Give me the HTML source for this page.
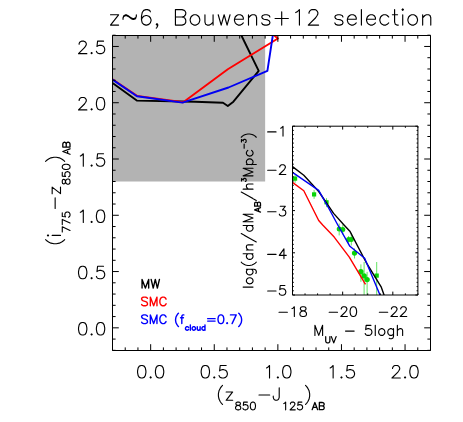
<!DOCTYPE html><html><head><meta charset="utf-8"><style>html,body{margin:0;padding:0;background:#fff}svg{display:block}</style></head><body><svg width="463" height="422" viewBox="0 0 463 422"><rect width="463" height="422" fill="#fff"/><rect x="112.5" y="35.5" width="152.64" height="146.01" fill="#b3b3b3"/><clipPath id="c1"><rect x="112.5" y="35.5" width="318" height="315"/></clipPath><g clip-path="url(#c1)"><polyline points="112.5,83 136.8,100.6 195,101.8 223,102.8 227.8,106 233.4,101.7 258.7,70.8 241.4,35.5" fill="none" stroke="#000" stroke-width="1.9" stroke-linejoin="round" /><polyline points="112.5,79.2 137,95.9 183.2,102.2 227.8,69.2 277.9,38.5 274.3,35.5" fill="none" stroke="#f00" stroke-width="1.9" stroke-linejoin="round" /><polyline points="112.5,79.6 137,96.3 182.5,102.6 228.5,87.5 267.4,70.8 272.8,35.5" fill="none" stroke="#0000f2" stroke-width="1.9" stroke-linejoin="round" /></g><path d="M112.5 35.5H430.5V350.5H112.5ZM112.5 350.5v-3.1M112.5 35.5v3.1M125.22 350.5v-3.1M125.22 35.5v3.1M137.94 350.5v-3.1M137.94 35.5v3.1M150.66 350.5v-6.3M150.66 35.5v6.3M163.38 350.5v-3.1M163.38 35.5v3.1M176.1 350.5v-3.1M176.1 35.5v3.1M188.82 350.5v-3.1M188.82 35.5v3.1M201.54 350.5v-3.1M201.54 35.5v3.1M214.26 350.5v-6.3M214.26 35.5v6.3M226.98 350.5v-3.1M226.98 35.5v3.1M239.7 350.5v-3.1M239.7 35.5v3.1M252.42 350.5v-3.1M252.42 35.5v3.1M265.14 350.5v-3.1M265.14 35.5v3.1M277.86 350.5v-6.3M277.86 35.5v6.3M290.58 350.5v-3.1M290.58 35.5v3.1M303.3 350.5v-3.1M303.3 35.5v3.1M316.02 350.5v-3.1M316.02 35.5v3.1M328.74 350.5v-3.1M328.74 35.5v3.1M341.46 350.5v-6.3M341.46 35.5v6.3M354.18 350.5v-3.1M354.18 35.5v3.1M366.9 350.5v-3.1M366.9 35.5v3.1M379.62 350.5v-3.1M379.62 35.5v3.1M392.34 350.5v-3.1M392.34 35.5v3.1M405.06 350.5v-6.3M405.06 35.5v6.3M417.78 350.5v-3.1M417.78 35.5v3.1M430.5 350.5v-3.1M430.5 35.5v3.1M112.5 350.34h3.1M430.5 350.34h-3.1M112.5 339.08h3.1M430.5 339.08h-3.1M112.5 327.83h6.3M430.5 327.83h-6.3M112.5 316.57h3.1M430.5 316.57h-3.1M112.5 305.32h3.1M430.5 305.32h-3.1M112.5 294.06h3.1M430.5 294.06h-3.1M112.5 282.81h3.1M430.5 282.81h-3.1M112.5 271.56h6.3M430.5 271.56h-6.3M112.5 260.3h3.1M430.5 260.3h-3.1M112.5 249.05h3.1M430.5 249.05h-3.1M112.5 237.79h3.1M430.5 237.79h-3.1M112.5 226.54h3.1M430.5 226.54h-3.1M112.5 215.28h6.3M430.5 215.28h-6.3M112.5 204.02h3.1M430.5 204.02h-3.1M112.5 192.77h3.1M430.5 192.77h-3.1M112.5 181.51h3.1M430.5 181.51h-3.1M112.5 170.26h3.1M430.5 170.26h-3.1M112.5 159h6.3M430.5 159h-6.3M112.5 147.75h3.1M430.5 147.75h-3.1M112.5 136.5h3.1M430.5 136.5h-3.1M112.5 125.24h3.1M430.5 125.24h-3.1M112.5 113.99h3.1M430.5 113.99h-3.1M112.5 102.73h6.3M430.5 102.73h-6.3M112.5 91.47h3.1M430.5 91.47h-3.1M112.5 80.22h3.1M430.5 80.22h-3.1M112.5 68.97h3.1M430.5 68.97h-3.1M112.5 57.71h3.1M430.5 57.71h-3.1M112.5 46.46h6.3M430.5 46.46h-6.3M112.5 35.2h3.1M430.5 35.2h-3.1" fill="none" stroke="#000" stroke-width="1"/><clipPath id="c2"><rect x="292.5" y="126.2" width="125.4" height="168.8"/></clipPath><g clip-path="url(#c2)"><path d="M295.1 175.1V182.8M314.1 189.9V198.8M326.5 198.2V207.1M339.2 223.5V235.4M342.8 224.5V234.5M348.6 236V243M351.3 233V245.5M354.5 248.4V258.5M360.9 264.4V281.8M364.1 262V300M367.1 271.9V300M376.7 262V300" stroke="#08d408" stroke-width="0.85" stroke-opacity="0.75" fill="none"/><rect x="293" y="176.5" width="4.2" height="4.2" fill="#08d408"/><rect x="312" y="192.3" width="4.2" height="4.2" fill="#08d408"/><rect x="324.4" y="200.2" width="4.2" height="4.2" fill="#08d408"/><circle cx="339.2" cy="229" r="2.5" fill="#08d408"/><circle cx="342.8" cy="229.6" r="2.5" fill="#08d408"/><circle cx="348.6" cy="239.6" r="2.5" fill="#08d408"/><circle cx="351.3" cy="239.4" r="2.5" fill="#08d408"/><circle cx="354.5" cy="253.1" r="2.6" fill="#08d408"/><circle cx="360.9" cy="271.7" r="2.7" fill="#08d408"/><circle cx="364.1" cy="275.9" r="2.7" fill="#08d408"/><circle cx="367.1" cy="279.6" r="2.7" fill="#08d408"/><rect x="374.6" y="273.5" width="4.2" height="4.2" fill="#08d408"/><polyline points="292.5,166.6 303.8,175.3 318.7,191.5 333.6,213.4 344,225 350.1,231.6 366.6,263.2 381.3,287.2 384.4,296" fill="none" stroke="#000" stroke-width="1.4" stroke-linejoin="round" /><polyline points="292.5,182.4 303.8,190.7 318.7,220.5 322.7,225 334.2,237.1 349.3,257.2 365.5,284.4" fill="none" stroke="#f00" stroke-width="1.4" stroke-linejoin="round" /><polyline points="292.5,172.4 318.7,190.3 328.6,208 337.8,225 349.9,246.3 364.7,258.3 376,285.4 380.4,296" fill="none" stroke="#0000f2" stroke-width="1.4" stroke-linejoin="round" /></g><path d="M292.5 126.2H417.9V295H292.5ZM292.5 295v-3.4M292.5 126.2v3.4M305.04 295v-1.6M305.04 126.2v1.6M317.58 295v-1.6M317.58 126.2v1.6M330.12 295v-1.6M330.12 126.2v1.6M342.66 295v-3.4M342.66 126.2v3.4M355.2 295v-1.6M355.2 126.2v1.6M367.74 295v-1.6M367.74 126.2v1.6M380.28 295v-1.6M380.28 126.2v1.6M392.82 295v-3.4M392.82 126.2v3.4M405.36 295v-1.6M405.36 126.2v1.6M417.9 295v-1.6M417.9 126.2v1.6M292.5 126.2h2.5M417.9 126.2h-2.5M292.5 130.42h1.3M417.9 130.42h-1.3M292.5 134.64h1.3M417.9 134.64h-1.3M292.5 138.86h1.3M417.9 138.86h-1.3M292.5 143.08h1.3M417.9 143.08h-1.3M292.5 147.3h1.3M417.9 147.3h-1.3M292.5 151.52h1.3M417.9 151.52h-1.3M292.5 155.74h1.3M417.9 155.74h-1.3M292.5 159.96h1.3M417.9 159.96h-1.3M292.5 164.18h1.3M417.9 164.18h-1.3M292.5 168.4h2.5M417.9 168.4h-2.5M292.5 172.62h1.3M417.9 172.62h-1.3M292.5 176.84h1.3M417.9 176.84h-1.3M292.5 181.06h1.3M417.9 181.06h-1.3M292.5 185.28h1.3M417.9 185.28h-1.3M292.5 189.5h1.3M417.9 189.5h-1.3M292.5 193.72h1.3M417.9 193.72h-1.3M292.5 197.94h1.3M417.9 197.94h-1.3M292.5 202.16h1.3M417.9 202.16h-1.3M292.5 206.38h1.3M417.9 206.38h-1.3M292.5 210.6h2.5M417.9 210.6h-2.5M292.5 214.82h1.3M417.9 214.82h-1.3M292.5 219.04h1.3M417.9 219.04h-1.3M292.5 223.26h1.3M417.9 223.26h-1.3M292.5 227.48h1.3M417.9 227.48h-1.3M292.5 231.7h1.3M417.9 231.7h-1.3M292.5 235.92h1.3M417.9 235.92h-1.3M292.5 240.14h1.3M417.9 240.14h-1.3M292.5 244.36h1.3M417.9 244.36h-1.3M292.5 248.58h1.3M417.9 248.58h-1.3M292.5 252.8h2.5M417.9 252.8h-2.5M292.5 257.02h1.3M417.9 257.02h-1.3M292.5 261.24h1.3M417.9 261.24h-1.3M292.5 265.46h1.3M417.9 265.46h-1.3M292.5 269.68h1.3M417.9 269.68h-1.3M292.5 273.9h1.3M417.9 273.9h-1.3M292.5 278.12h1.3M417.9 278.12h-1.3M292.5 282.34h1.3M417.9 282.34h-1.3M292.5 286.56h1.3M417.9 286.56h-1.3M292.5 290.78h1.3M417.9 290.78h-1.3M292.5 295h2.5M417.9 295h-2.5" fill="none" stroke="#000" stroke-width="1"/><path d="M110.49 14.77 L118.6 14.77 L110.49 25.1 L118.6 25.1M123.03 17.87 L123.77 15.65 L125.25 14.92 L126.72 14.92 L128.2 15.65 L131.15 17.87 L132.63 18.61 L134.1 18.61 L135.58 17.87 L136.32 16.39 L135.58 18.61 L134.1 19.34 L132.63 19.34 L131.15 18.61 L128.2 16.39 L126.72 15.65 L125.25 15.65 L123.77 16.39 L123.03 17.87 L123.03 19.34M136.32 16.39 L136.32 14.92M141.48 19.93 L141.48 16.24 L142.22 12.55 L143.7 10.34 L145.91 9.6 L147.39 9.6 L149.6 10.34 L150.34 11.82M141.48 19.93 L142.22 22.89 L143.7 24.36 L145.91 25.1 L146.65 25.1 L148.86 24.36 L150.34 22.89 L151.08 20.67 L151.08 19.93 L150.34 17.72 L148.86 16.24 L146.65 15.51 L145.91 15.51 L143.7 16.24 L142.22 17.72 L141.48 19.93M157.72 24.36 L157.72 25.84 L156.98 27.31 L156.24 28.05M157.72 24.36 L156.98 23.62 L156.24 24.36 L156.98 25.1 L157.72 24.36M175.43 16.98 L182.07 16.98 L184.28 16.24 L185.02 15.51 L185.76 14.03 L185.76 12.55 L185.02 11.08 L184.28 10.34 L182.07 9.6 L175.43 9.6 L175.43 25.1 L182.07 25.1 L184.28 24.36 L185.02 23.62 L185.76 22.15 L185.76 19.93 L185.02 18.46 L184.28 17.72 L182.07 16.98M190.93 16.98 L190.19 19.2 L190.19 20.67 L190.93 22.89 L192.4 24.36 L193.88 25.1 L196.09 25.1 L197.57 24.36 L199.04 22.89 L199.78 20.67 L199.78 19.2 L199.04 16.98 L197.57 15.51 L196.09 14.77 L193.88 14.77 L192.4 15.51 L190.93 16.98M213.07 14.77 L213.07 25.1M204.95 14.77 L204.95 22.15 L205.69 24.36 L207.16 25.1 L209.38 25.1 L210.85 24.36 L213.07 22.15M218.23 14.77 L221.18 25.1 L224.14 14.77 L227.09 25.1 L230.04 14.77M234.47 19.2 L243.32 19.2 L243.32 17.72 L242.59 16.24 L241.85 15.51 L240.37 14.77 L238.16 14.77 L236.68 15.51 L235.21 16.98 L234.47 19.2 L234.47 20.67 L235.21 22.89 L236.68 24.36 L238.16 25.1 L240.37 25.1 L241.85 24.36 L243.32 22.89M248.49 14.77 L248.49 25.1M256.61 25.1 L256.61 17.72 L255.87 15.51 L254.39 14.77 L252.18 14.77 L250.7 15.51 L248.49 17.72M269.89 16.98 L269.15 15.51 L266.94 14.77 L264.73 14.77 L262.51 15.51 L261.77 16.98 L262.51 18.46 L263.99 19.2 L267.68 19.93 L269.15 20.67 L269.89 22.15 L269.89 22.89 L269.15 24.36 L266.94 25.1 L264.73 25.1 L262.51 24.36 L261.77 22.89M281.7 11.82 L281.7 25.1M275.06 18.46 L288.34 18.46M299.41 25.1 L299.41 9.6 L297.2 11.82 L295.72 12.55M318.6 25.1 L308.27 25.1 L315.65 17.72 L317.12 15.51 L317.86 14.03 L317.86 12.55 L317.12 11.08 L316.39 10.34 L314.91 9.6 L311.96 9.6 L310.48 10.34 L309.74 11.08 L309.01 12.55 L309.01 13.29M342.95 16.98 L342.22 15.51 L340 14.77 L337.79 14.77 L335.57 15.51 L334.84 16.98 L335.57 18.46 L337.05 19.2 L340.74 19.93 L342.22 20.67 L342.95 22.15 L342.95 22.89 L342.22 24.36 L340 25.1 L337.79 25.1 L335.57 24.36 L334.84 22.89M347.38 19.2 L356.24 19.2 L356.24 17.72 L355.5 16.24 L354.76 15.51 L353.29 14.77 L351.07 14.77 L349.6 15.51 L348.12 16.98 L347.38 19.2 L347.38 20.67 L348.12 22.89 L349.6 24.36 L351.07 25.1 L353.29 25.1 L354.76 24.36 L356.24 22.89M361.4 9.6 L361.4 25.1M366.57 19.2 L375.43 19.2 L375.43 17.72 L374.69 16.24 L373.95 15.51 L372.47 14.77 L370.26 14.77 L368.78 15.51 L367.31 16.98 L366.57 19.2 L366.57 20.67 L367.31 22.89 L368.78 24.36 L370.26 25.1 L372.47 25.1 L373.95 24.36 L375.43 22.89M388.71 16.98 L387.23 15.51 L385.76 14.77 L383.54 14.77 L382.07 15.51 L380.59 16.98 L379.85 19.2 L379.85 20.67 L380.59 22.89 L382.07 24.36 L383.54 25.1 L385.76 25.1 L387.23 24.36 L388.71 22.89M394.61 9.6 L394.61 22.15 L395.35 24.36 L396.83 25.1 L398.3 25.1M392.4 14.77 L397.57 14.77M402.73 14.77 L402.73 25.1M402.73 8.86 L401.99 9.6 L402.73 10.34 L403.47 9.6 L402.73 8.86M408.64 16.98 L407.9 19.2 L407.9 20.67 L408.64 22.89 L410.11 24.36 L411.59 25.1 L413.8 25.1 L415.28 24.36 L416.75 22.89 L417.49 20.67 L417.49 19.2 L416.75 16.98 L415.28 15.51 L413.8 14.77 L411.59 14.77 L410.11 15.51 L408.64 16.98M422.66 14.77 L422.66 25.1M430.78 25.1 L430.78 17.72 L430.04 15.51 L428.56 14.77 L426.35 14.77 L424.87 15.51 L422.66 17.72" fill="none" stroke="#000" stroke-width="1.15" stroke-linecap="round" stroke-linejoin="round"/><path d="M138.16 367.88 L137.57 370.86 L137.57 372.64 L138.16 375.62 L139.35 377.4 L141.14 378 L142.33 378 L144.12 377.4 L145.31 375.62 L145.9 372.64 L145.9 370.86 L145.31 367.88 L144.12 366.1 L142.33 365.5 L141.14 365.5 L139.35 366.1 L138.16 367.88M150.66 376.81 L150.06 377.4 L150.66 378 L151.25 377.4 L150.66 376.81M156.01 367.88 L155.42 370.86 L155.42 372.64 L156.01 375.62 L157.2 377.4 L158.99 378 L160.18 378 L161.97 377.4 L163.16 375.62 L163.75 372.64 L163.75 370.86 L163.16 367.88 L161.97 366.1 L160.18 365.5 L158.99 365.5 L157.2 366.1 L156.01 367.88" fill="none" stroke="#000" stroke-width="1.12" stroke-linecap="round" stroke-linejoin="round"/><path d="M201.76 367.88 L201.17 370.86 L201.17 372.64 L201.76 375.62 L202.95 377.4 L204.74 378 L205.93 378 L207.72 377.4 L208.91 375.62 L209.5 372.64 L209.5 370.86 L208.91 367.88 L207.72 366.1 L205.93 365.5 L204.74 365.5 L202.95 366.1 L201.76 367.88M214.26 376.81 L213.66 377.4 L214.26 378 L214.85 377.4 L214.26 376.81M226.16 365.5 L220.21 365.5 L219.61 370.86 L220.21 370.26 L221.99 369.67 L223.78 369.67 L225.56 370.26 L226.75 371.45 L227.35 373.24 L227.35 374.43 L226.75 376.21 L225.56 377.4 L223.78 378 L221.99 378 L220.21 377.4 L219.61 376.81 L219.02 375.62" fill="none" stroke="#000" stroke-width="1.12" stroke-linecap="round" stroke-linejoin="round"/><path d="M269.53 378 L269.53 365.5 L267.75 367.29 L266.56 367.88M277.86 376.81 L277.26 377.4 L277.86 378 L278.45 377.4 L277.86 376.81M283.21 367.88 L282.62 370.86 L282.62 372.64 L283.21 375.62 L284.4 377.4 L286.19 378 L287.38 378 L289.16 377.4 L290.35 375.62 L290.95 372.64 L290.95 370.86 L290.35 367.88 L289.16 366.1 L287.38 365.5 L286.19 365.5 L284.4 366.1 L283.21 367.88" fill="none" stroke="#000" stroke-width="1.12" stroke-linecap="round" stroke-linejoin="round"/><path d="M333.13 378 L333.13 365.5 L331.35 367.29 L330.16 367.88M341.46 376.81 L340.87 377.4 L341.46 378 L342.06 377.4 L341.46 376.81M353.36 365.5 L347.41 365.5 L346.81 370.86 L347.41 370.26 L349.19 369.67 L350.98 369.67 L352.76 370.26 L353.95 371.45 L354.55 373.24 L354.55 374.43 L353.95 376.21 L352.76 377.4 L350.98 378 L349.19 378 L347.41 377.4 L346.81 376.81 L346.22 375.62" fill="none" stroke="#000" stroke-width="1.12" stroke-linecap="round" stroke-linejoin="round"/><path d="M400.3 378 L391.97 378 L397.92 372.05 L399.11 370.26 L399.7 369.07 L399.7 367.88 L399.11 366.69 L398.51 366.1 L397.32 365.5 L394.94 365.5 L393.75 366.1 L393.16 366.69 L392.56 367.88 L392.56 368.48M405.06 376.81 L404.46 377.4 L405.06 378 L405.65 377.4 L405.06 376.81M410.41 367.88 L409.82 370.86 L409.82 372.64 L410.41 375.62 L411.6 377.4 L413.39 378 L414.58 378 L416.36 377.4 L417.55 375.62 L418.15 372.64 L418.15 370.86 L417.55 367.88 L416.36 366.1 L414.58 365.5 L413.39 365.5 L411.6 366.1 L410.41 367.88" fill="none" stroke="#000" stroke-width="1.12" stroke-linecap="round" stroke-linejoin="round"/><path d="M79.13 324.91 L78.53 327.89 L78.53 329.67 L79.13 332.65 L80.32 334.43 L82.11 335.03 L83.3 335.03 L85.08 334.43 L86.27 332.65 L86.86 329.67 L86.86 327.89 L86.27 324.91 L85.08 323.13 L83.3 322.53 L82.11 322.53 L80.32 323.13 L79.13 324.91M91.62 333.84 L91.03 334.43 L91.62 335.03 L92.22 334.43 L91.62 333.84M96.98 324.91 L96.39 327.89 L96.39 329.67 L96.98 332.65 L98.17 334.43 L99.96 335.03 L101.15 335.03 L102.93 334.43 L104.12 332.65 L104.72 329.67 L104.72 327.89 L104.12 324.91 L102.93 323.13 L101.15 322.53 L99.96 322.53 L98.17 323.13 L96.98 324.91" fill="none" stroke="#000" stroke-width="1.12" stroke-linecap="round" stroke-linejoin="round"/><path d="M79.13 268.64 L78.53 271.62 L78.53 273.4 L79.13 276.38 L80.32 278.16 L82.11 278.75 L83.3 278.75 L85.08 278.16 L86.27 276.38 L86.86 273.4 L86.86 271.62 L86.27 268.64 L85.08 266.86 L83.3 266.26 L82.11 266.26 L80.32 266.86 L79.13 268.64M91.62 277.56 L91.03 278.16 L91.62 278.75 L92.22 278.16 L91.62 277.56M103.53 266.26 L97.58 266.26 L96.98 271.62 L97.58 271.02 L99.36 270.43 L101.15 270.43 L102.93 271.02 L104.12 272.21 L104.72 274 L104.72 275.19 L104.12 276.97 L102.93 278.16 L101.15 278.75 L99.36 278.75 L97.58 278.16 L96.98 277.56 L96.39 276.38" fill="none" stroke="#000" stroke-width="1.12" stroke-linecap="round" stroke-linejoin="round"/><path d="M83.3 222.48 L83.3 209.99 L81.51 211.77 L80.32 212.37M91.62 221.29 L91.03 221.89 L91.62 222.48 L92.22 221.89 L91.62 221.29M96.98 212.37 L96.39 215.34 L96.39 217.13 L96.98 220.1 L98.17 221.89 L99.96 222.48 L101.15 222.48 L102.93 221.89 L104.12 220.1 L104.72 217.13 L104.72 215.34 L104.12 212.37 L102.93 210.58 L101.15 209.99 L99.96 209.99 L98.17 210.58 L96.98 212.37" fill="none" stroke="#000" stroke-width="1.12" stroke-linecap="round" stroke-linejoin="round"/><path d="M83.3 166.2 L83.3 153.71 L81.51 155.49 L80.32 156.09M91.62 165.01 L91.03 165.61 L91.62 166.2 L92.22 165.61 L91.62 165.01M103.53 153.71 L97.58 153.71 L96.98 159.06 L97.58 158.47 L99.36 157.87 L101.15 157.87 L102.93 158.47 L104.12 159.66 L104.72 161.44 L104.72 162.63 L104.12 164.42 L102.93 165.61 L101.15 166.2 L99.36 166.2 L97.58 165.61 L96.98 165.01 L96.39 163.82" fill="none" stroke="#000" stroke-width="1.12" stroke-linecap="round" stroke-linejoin="round"/><path d="M86.86 109.93 L78.53 109.93 L84.48 103.98 L85.67 102.2 L86.27 101.01 L86.27 99.82 L85.67 98.63 L85.08 98.03 L83.89 97.44 L81.51 97.44 L80.32 98.03 L79.72 98.63 L79.13 99.82 L79.13 100.41M91.62 108.74 L91.03 109.34 L91.62 109.93 L92.22 109.34 L91.62 108.74M96.98 99.82 L96.39 102.79 L96.39 104.58 L96.98 107.55 L98.17 109.34 L99.96 109.93 L101.15 109.93 L102.93 109.34 L104.12 107.55 L104.72 104.58 L104.72 102.79 L104.12 99.82 L102.93 98.03 L101.15 97.44 L99.96 97.44 L98.17 98.03 L96.98 99.82" fill="none" stroke="#000" stroke-width="1.12" stroke-linecap="round" stroke-linejoin="round"/><path d="M86.86 53.66 L78.53 53.66 L84.48 47.71 L85.67 45.92 L86.27 44.73 L86.27 43.54 L85.67 42.35 L85.08 41.76 L83.89 41.16 L81.51 41.16 L80.32 41.76 L79.72 42.35 L79.13 43.54 L79.13 44.14M91.62 52.47 L91.03 53.06 L91.62 53.66 L92.22 53.06 L91.62 52.47M103.53 41.16 L97.58 41.16 L96.98 46.52 L97.58 45.92 L99.36 45.33 L101.15 45.33 L102.93 45.92 L104.12 47.11 L104.72 48.9 L104.72 50.09 L104.12 51.87 L102.93 53.06 L101.15 53.66 L99.36 53.66 L97.58 53.06 L96.98 52.47 L96.39 51.28" fill="none" stroke="#000" stroke-width="1.12" stroke-linecap="round" stroke-linejoin="round"/><path d="M222.56 385.43 L221.38 386.62 L220.19 388.4 L219 390.78 L218.4 393.75 L218.4 396.13 L219 399.11 L220.19 401.49 L221.38 403.28 L222.56 404.47M226.14 391.97 L232.68 391.97 L226.14 400.3 L232.68 400.3M237.05 405.02 L238.52 405.39 L239.63 405.76 L240.37 406.5 L240.74 407.24 L240.74 408.34 L240.37 409.08 L240 409.45 L238.89 409.82 L237.42 409.82 L236.31 409.45 L235.94 409.08 L235.57 408.34 L235.57 407.24 L235.94 406.5 L236.68 405.76 L237.79 405.39 L239.26 405.02 L240 404.66 L240.37 403.92 L240.37 403.18 L240 402.44 L238.89 402.07 L237.42 402.07 L236.31 402.44 L235.94 403.18 L235.94 403.92 L236.31 404.66 L237.05 405.02M247.38 402.07 L243.69 402.07 L243.32 405.39 L243.69 405.02 L244.79 404.66 L245.9 404.66 L247.01 405.02 L247.75 405.76 L248.11 406.87 L248.11 407.61 L247.75 408.71 L247.01 409.45 L245.9 409.82 L244.79 409.82 L243.69 409.45 L243.32 409.08 L242.95 408.34M250.7 403.55 L250.33 405.39 L250.33 406.5 L250.7 408.34 L251.43 409.45 L252.54 409.82 L253.28 409.82 L254.39 409.45 L255.12 408.34 L255.49 406.5 L255.49 405.39 L255.12 403.55 L254.39 402.44 L253.28 402.07 L252.54 402.07 L251.43 402.44 L250.7 403.55M258.98 394.94 L269.69 394.94M279.21 387.81 L279.21 397.32 L278.61 399.11 L278.02 399.7 L276.83 400.3 L275.64 400.3 L274.45 399.7 L273.85 399.11 L273.26 397.32 L273.26 396.13M285.65 409.82 L285.65 402.07 L284.54 403.18 L283.8 403.55M295.24 409.82 L290.07 409.82 L293.76 406.13 L294.5 405.02 L294.87 404.29 L294.87 403.55 L294.5 402.81 L294.13 402.44 L293.39 402.07 L291.92 402.07 L291.18 402.44 L290.81 402.81 L290.44 403.55 L290.44 403.92M301.88 402.07 L298.19 402.07 L297.82 405.39 L298.19 405.02 L299.3 404.66 L300.4 404.66 L301.51 405.02 L302.25 405.76 L302.62 406.87 L302.62 407.61 L302.25 408.71 L301.51 409.45 L300.4 409.82 L299.3 409.82 L298.19 409.45 L297.82 409.08 L297.45 408.34M305.51 385.43 L306.7 386.62 L307.89 388.4 L309.08 390.78 L309.67 393.75 L309.67 396.13 L309.08 399.11 L307.89 401.49 L306.7 403.28 L305.51 404.47" fill="none" stroke="#000" stroke-width="1.12" stroke-linecap="round" stroke-linejoin="round"/><path d="M312.14 409.7 L314.89 402.5 L317.63 409.7M313.17 407.3 L316.6 407.3M319.35 405.93 L322.43 405.93 L323.46 405.58 L323.81 405.24 L324.15 404.56 L324.15 403.87 L323.81 403.18 L323.46 402.84 L322.43 402.5 L319.35 402.5 L319.35 409.7 L322.43 409.7 L323.46 409.36 L323.81 409.01 L324.15 408.33 L324.15 407.3 L323.81 406.61 L323.46 406.27 L322.43 405.93" fill="none" stroke="#000" stroke-width="1.3" stroke-linecap="round" stroke-linejoin="round"/><path d="M6.54 -14.88 L5.35 -13.68 L4.17 -11.9 L2.97 -9.52 L2.38 -6.54 L2.38 -4.17 L2.97 -1.19 L4.17 1.19 L5.35 2.97 L6.54 4.17M10.71 -8.33 L10.71 0M10.71 -13.09 L10.12 -12.49 L10.71 -11.9 L11.3 -12.49 L10.71 -13.09M15.67 9.52 L19.36 1.77 L14.2 1.77M23.05 9.52 L26.74 1.77 L21.57 1.77M33.38 1.77 L29.69 1.77 L29.32 5.09 L29.69 4.72 L30.8 4.36 L31.9 4.36 L33.01 4.72 L33.75 5.46 L34.12 6.57 L34.12 7.31 L33.75 8.41 L33.01 9.15 L31.9 9.52 L30.8 9.52 L29.69 9.15 L29.32 8.78 L28.95 8.04M37.6 -5.35 L48.31 -5.35M52.48 -8.33 L59.02 -8.33 L52.48 0 L59.02 0M63.39 4.72 L64.87 5.09 L65.97 5.46 L66.71 6.2 L67.08 6.94 L67.08 8.04 L66.71 8.78 L66.34 9.15 L65.24 9.52 L63.76 9.52 L62.65 9.15 L62.28 8.78 L61.92 8.04 L61.92 6.94 L62.28 6.2 L63.02 5.46 L64.13 5.09 L65.6 4.72 L66.34 4.36 L66.71 3.62 L66.71 2.88 L66.34 2.14 L65.24 1.77 L63.76 1.77 L62.65 2.14 L62.28 2.88 L62.28 3.62 L62.65 4.36 L63.39 4.72M73.72 1.77 L70.03 1.77 L69.66 5.09 L70.03 4.72 L71.14 4.36 L72.24 4.36 L73.35 4.72 L74.09 5.46 L74.46 6.57 L74.46 7.31 L74.09 8.41 L73.35 9.15 L72.24 9.52 L71.14 9.52 L70.03 9.15 L69.66 8.78 L69.29 8.04M77.04 3.25 L76.67 5.09 L76.67 6.2 L77.04 8.04 L77.78 9.15 L78.89 9.52 L79.62 9.52 L80.73 9.15 L81.47 8.04 L81.84 6.2 L81.84 5.09 L81.47 3.25 L80.73 2.14 L79.62 1.77 L78.89 1.77 L77.78 2.14 L77.04 3.25M84.73 -14.88 L85.92 -13.68 L87.11 -11.9 L88.3 -9.52 L88.89 -6.54 L88.89 -4.17 L88.3 -1.19 L87.11 1.19 L85.92 2.97 L84.73 4.17" fill="none" stroke="#000" stroke-width="1.12" stroke-linecap="round" stroke-linejoin="round" transform="translate(60.5 246.1365) rotate(-90)"/><path d="M0.34 0 L3.09 -7.2 L5.83 0M1.37 -2.4 L4.8 -2.4M7.55 -3.77 L10.63 -3.77 L11.66 -4.12 L12.01 -4.46 L12.35 -5.15 L12.35 -5.83 L12.01 -6.52 L11.66 -6.86 L10.63 -7.2 L7.55 -7.2 L7.55 0 L10.63 0 L11.66 -0.34 L12.01 -0.69 L12.35 -1.37 L12.35 -2.4 L12.01 -3.09 L11.66 -3.43 L10.63 -3.77" fill="none" stroke="#000" stroke-width="1.3" stroke-linecap="round" stroke-linejoin="round" transform="translate(70 154.6) rotate(-90)"/><path d="M142.06 288.1 L142.06 279.41 L145.37 288.1 L148.68 279.41 L148.68 288.1M151.16 279.41 L153.23 288.1 L155.3 279.41 L157.37 288.1 L159.44 279.41" fill="none" stroke="#000" stroke-width="1.4" stroke-linecap="round" stroke-linejoin="round"/><path d="M147.44 298.35 L146.61 297.52 L145.37 297.11 L143.71 297.11 L142.47 297.52 L141.64 298.35 L141.64 299.18 L142.06 300 L142.47 300.42 L143.3 300.83 L145.78 301.66 L146.61 302.07 L147.02 302.49 L147.44 303.32 L147.44 304.56 L146.61 305.39 L145.37 305.8 L143.71 305.8 L142.47 305.39 L141.64 304.56M150.34 305.8 L150.34 297.11 L153.65 305.8 L156.96 297.11 L156.96 305.8M166.07 299.18 L165.65 298.35 L164.83 297.52 L164 297.11 L162.34 297.11 L161.51 297.52 L160.69 298.35 L160.27 299.18 L159.86 300.42 L159.86 302.49 L160.27 303.73 L160.69 304.56 L161.51 305.39 L162.34 305.8 L164 305.8 L164.83 305.39 L165.65 304.56 L166.07 303.73" fill="none" stroke="#f00" stroke-width="1.4" stroke-linecap="round" stroke-linejoin="round"/><path d="M147.44 316.15 L146.61 315.32 L145.37 314.91 L143.71 314.91 L142.47 315.32 L141.64 316.15 L141.64 316.98 L142.06 317.8 L142.47 318.22 L143.3 318.63 L145.78 319.46 L146.61 319.87 L147.02 320.29 L147.44 321.12 L147.44 322.36 L146.61 323.19 L145.37 323.6 L143.71 323.6 L142.47 323.19 L141.64 322.36M150.34 323.6 L150.34 314.91 L153.65 323.6 L156.96 314.91 L156.96 323.6M166.07 316.98 L165.65 316.15 L164.83 315.32 L164 314.91 L162.34 314.91 L161.51 315.32 L160.69 316.15 L160.27 316.98 L159.86 318.22 L159.86 320.29 L160.27 321.53 L160.69 322.36 L161.51 323.19 L162.34 323.6 L164 323.6 L164.83 323.19 L165.65 322.36 L166.07 321.53M178.49 313.25 L177.66 314.08 L176.83 315.32 L176 316.98 L175.59 319.05 L175.59 320.7 L176 322.77 L176.83 324.43 L177.66 325.67 L178.49 326.5M181.8 323.6 L181.8 316.56 L182.21 315.32 L183.04 314.91 L183.87 314.91M180.56 317.8 L183.46 317.8M188.55 327.4 L188.03 326.89 L187.52 326.63 L186.75 326.63 L186.24 326.89 L185.72 327.4 L185.47 328.17 L185.47 328.68 L185.72 329.45 L186.24 329.97 L186.75 330.22 L187.52 330.22 L188.03 329.97 L188.55 329.45M190.34 324.83 L190.34 330.22M192.4 327.4 L192.14 328.17 L192.14 328.68 L192.4 329.45 L192.91 329.97 L193.43 330.22 L194.2 330.22 L194.71 329.97 L195.22 329.45 L195.48 328.68 L195.48 328.17 L195.22 327.4 L194.71 326.89 L194.2 326.63 L193.43 326.63 L192.91 326.89 L192.4 327.4M200.1 326.63 L200.1 330.22M197.28 326.63 L197.28 329.2 L197.53 329.97 L198.05 330.22 L198.82 330.22 L199.33 329.97 L200.1 329.2M204.98 324.83 L204.98 330.22M204.98 327.4 L204.46 326.89 L203.95 326.63 L203.18 326.63 L202.67 326.89 L202.15 327.4 L201.9 328.17 L201.9 328.68 L202.15 329.45 L202.67 329.97 L203.18 330.22 L203.95 330.22 L204.46 329.97 L204.98 329.45M207.66 318.63 L215.11 318.63M207.66 321.12 L215.11 321.12M218.42 316.56 L218.01 318.63 L218.01 319.87 L218.42 321.94 L219.25 323.19 L220.49 323.6 L221.32 323.6 L222.56 323.19 L223.39 321.94 L223.8 319.87 L223.8 318.63 L223.39 316.56 L222.56 315.32 L221.32 314.91 L220.49 314.91 L219.25 315.32 L218.42 316.56M227.12 322.77 L226.7 323.19 L227.12 323.6 L227.53 323.19 L227.12 322.77M232.08 323.6 L236.22 314.91 L230.43 314.91M238.71 313.25 L239.54 314.08 L240.36 315.32 L241.19 316.98 L241.61 319.05 L241.61 320.7 L241.19 322.77 L240.36 324.43 L239.54 325.67 L238.71 326.5" fill="none" stroke="#00f" stroke-width="1.4" stroke-linecap="round" stroke-linejoin="round"/><path d="M267.67 131.91 L276.04 131.91M283.01 136.1 L283.01 126.33 L281.62 127.73 L280.69 128.19" fill="none" stroke="#000" stroke-width="1.12" stroke-linecap="round" stroke-linejoin="round"/><path d="M267.67 170.31 L276.04 170.31M285.8 174.5 L279.29 174.5 L283.94 169.85 L284.88 168.46 L285.34 167.53 L285.34 166.59 L284.88 165.66 L284.41 165.2 L283.48 164.74 L281.62 164.74 L280.69 165.2 L280.22 165.66 L279.76 166.59 L279.76 167.06" fill="none" stroke="#000" stroke-width="1.12" stroke-linecap="round" stroke-linejoin="round"/><path d="M267.67 211.81 L276.04 211.81M280.22 206.24 L285.34 206.24 L282.55 209.96 L283.94 209.96 L284.88 210.42 L285.34 210.88 L285.8 212.28 L285.8 213.21 L285.34 214.6 L284.41 215.53 L283.01 216 L281.62 216 L280.22 215.53 L279.76 215.07 L279.29 214.14" fill="none" stroke="#000" stroke-width="1.12" stroke-linecap="round" stroke-linejoin="round"/><path d="M267.67 254.42 L276.04 254.42M283.94 258.6 L283.94 248.84 L279.29 255.35 L286.27 255.35" fill="none" stroke="#000" stroke-width="1.12" stroke-linecap="round" stroke-linejoin="round"/><path d="M267.67 291.01 L276.04 291.01M284.88 285.44 L280.22 285.44 L279.76 289.62 L280.22 289.15 L281.62 288.69 L283.01 288.69 L284.41 289.15 L285.34 290.08 L285.8 291.48 L285.8 292.41 L285.34 293.81 L284.41 294.74 L283.01 295.2 L281.62 295.2 L280.22 294.74 L279.76 294.27 L279.29 293.34" fill="none" stroke="#000" stroke-width="1.12" stroke-linecap="round" stroke-linejoin="round"/><path d="M279.01 312.31 L287.38 312.31M294.36 316.5 L294.36 306.74 L292.96 308.13 L292.03 308.6M301.8 310.45 L303.66 310.92 L305.05 311.38 L305.98 312.31 L306.45 313.25 L306.45 314.64 L305.98 315.57 L305.52 316.04 L304.12 316.5 L302.26 316.5 L300.87 316.04 L300.4 315.57 L299.94 314.64 L299.94 313.25 L300.4 312.31 L301.33 311.38 L302.73 310.92 L304.59 310.45 L305.52 309.99 L305.98 309.06 L305.98 308.13 L305.52 307.2 L304.12 306.74 L302.26 306.74 L300.87 307.2 L300.4 308.13 L300.4 309.06 L300.87 309.99 L301.8 310.45" fill="none" stroke="#000" stroke-width="1.12" stroke-linecap="round" stroke-linejoin="round"/><path d="M329.17 312.31 L337.54 312.31M347.31 316.5 L340.8 316.5 L345.45 311.85 L346.38 310.45 L346.84 309.52 L346.84 308.6 L346.38 307.67 L345.91 307.2 L344.98 306.74 L343.12 306.74 L342.19 307.2 L341.73 307.67 L341.26 308.6 L341.26 309.06M350.56 308.6 L350.1 310.92 L350.1 312.31 L350.56 314.64 L351.49 316.04 L352.89 316.5 L353.82 316.5 L355.21 316.04 L356.14 314.64 L356.61 312.31 L356.61 310.92 L356.14 308.6 L355.21 307.2 L353.82 306.74 L352.89 306.74 L351.49 307.2 L350.56 308.6" fill="none" stroke="#000" stroke-width="1.12" stroke-linecap="round" stroke-linejoin="round"/><path d="M379.33 312.31 L387.7 312.31M397.47 316.5 L390.96 316.5 L395.61 311.85 L396.54 310.45 L397 309.52 L397 308.6 L396.54 307.67 L396.07 307.2 L395.14 306.74 L393.28 306.74 L392.35 307.2 L391.89 307.67 L391.42 308.6 L391.42 309.06M406.77 316.5 L400.26 316.5 L404.91 311.85 L405.84 310.45 L406.3 309.52 L406.3 308.6 L405.84 307.67 L405.37 307.2 L404.44 306.74 L402.58 306.74 L401.65 307.2 L401.19 307.67 L400.72 308.6 L400.72 309.06" fill="none" stroke="#000" stroke-width="1.12" stroke-linecap="round" stroke-linejoin="round"/><path d="M314.92 335.4 L314.92 325.32 L318.76 335.4 L322.6 325.32 L322.6 335.4" fill="none" stroke="#000" stroke-width="1.12" stroke-linecap="round" stroke-linejoin="round"/><path d="M325.7 336.64 L325.7 341.11 L326 342.01 L326.59 342.6 L327.49 342.9 L328.08 342.9 L328.98 342.6 L329.57 342.01 L329.87 341.11 L329.87 336.64M331.36 336.64 L333.75 342.9 L336.13 336.64" fill="none" stroke="#000" stroke-width="1.25" stroke-linecap="round" stroke-linejoin="round"/><path d="M345.52 331.08 L354.16 331.08M370.96 325.32 L366.16 325.32 L365.68 329.64 L366.16 329.16 L367.6 328.68 L369.04 328.68 L370.48 329.16 L371.44 330.12 L371.92 331.56 L371.92 332.52 L371.44 333.96 L370.48 334.92 L369.04 335.4 L367.6 335.4 L366.16 334.92 L365.68 334.44 L365.2 333.48M375.28 325.32 L375.28 335.4M379.12 330.12 L378.64 331.56 L378.64 332.52 L379.12 333.96 L380.08 334.92 L381.04 335.4 L382.48 335.4 L383.44 334.92 L384.4 333.96 L384.88 332.52 L384.88 331.56 L384.4 330.12 L383.44 329.16 L382.48 328.68 L381.04 328.68 L380.08 329.16 L379.12 330.12M393.52 328.68 L393.52 336.36 L393.04 337.8 L392.56 338.28 L391.6 338.76 L390.16 338.76 L389.2 338.28M393.52 330.12 L392.56 329.16 L391.6 328.68 L390.16 328.68 L389.2 329.16 L388.24 330.12 L387.76 331.56 L387.76 332.52 L388.24 333.96 L389.2 334.92 L390.16 335.4 L391.6 335.4 L392.56 334.92 L393.52 333.96M397.36 325.32 L397.36 335.4M402.64 335.4 L402.64 330.6 L402.16 329.16 L401.2 328.68 L399.76 328.68 L398.8 329.16 L397.36 330.6" fill="none" stroke="#000" stroke-width="1.12" stroke-linecap="round" stroke-linejoin="round"/><path d="M1.88 -9.87 L1.88 0M5.64 -5.17 L5.17 -3.76 L5.17 -2.82 L5.64 -1.41 L6.58 -0.47 L7.52 0 L8.93 0 L9.87 -0.47 L10.81 -1.41 L11.28 -2.82 L11.28 -3.76 L10.81 -5.17 L9.87 -6.11 L8.93 -6.58 L7.52 -6.58 L6.58 -6.11 L5.64 -5.17M19.74 -6.58 L19.74 0.94 L19.27 2.35 L18.8 2.82 L17.86 3.29 L16.45 3.29 L15.51 2.82M19.74 -5.17 L18.8 -6.11 L17.86 -6.58 L16.45 -6.58 L15.51 -6.11 L14.57 -5.17 L14.1 -3.76 L14.1 -2.82 L14.57 -1.41 L15.51 -0.47 L16.45 0 L17.86 0 L18.8 -0.47 L19.74 -1.41M26.79 -11.75 L25.85 -10.81 L24.91 -9.4 L23.97 -7.52 L23.5 -5.17 L23.5 -3.29 L23.97 -0.94 L24.91 0.94 L25.85 2.35 L26.79 3.29M35.25 -9.87 L35.25 0M35.25 -5.17 L34.31 -6.11 L33.37 -6.58 L31.96 -6.58 L31.02 -6.11 L30.08 -5.17 L29.61 -3.76 L29.61 -2.82 L30.08 -1.41 L31.02 -0.47 L31.96 0 L33.37 0 L34.31 -0.47 L35.25 -1.41M39.01 -6.58 L39.01 0M44.18 0 L44.18 -4.7 L43.71 -6.11 L42.77 -6.58 L41.36 -6.58 L40.42 -6.11 L39.01 -4.7M55.46 -11.75 L48.88 0M53.58 -8.46 L47 3.29M63.45 -9.87 L63.45 0M63.45 -5.17 L62.51 -6.11 L61.57 -6.58 L60.16 -6.58 L59.22 -6.11 L58.28 -5.17 L57.81 -3.76 L57.81 -2.82 L58.28 -1.41 L59.22 -0.47 L60.16 0 L61.57 0 L62.51 -0.47 L63.45 -1.41M67.21 0 L67.21 -9.87 L70.97 0 L74.73 -9.87 L74.73 0M97.01 -11.75 L90.43 0M95.13 -8.46 L88.55 3.29M99.83 -9.87 L99.83 0M105 0 L105 -4.7 L104.53 -6.11 L103.59 -6.58 L102.18 -6.58 L101.24 -6.11 L99.83 -4.7M113.18 0 L113.18 -9.87 L116.94 0 L120.7 -9.87 L120.7 0M124.46 -6.58 L124.46 3.29M124.46 -5.17 L125.4 -6.11 L126.34 -6.58 L127.75 -6.58 L128.69 -6.11 L129.63 -5.17 L130.1 -3.76 L130.1 -2.82 L129.63 -1.41 L128.69 -0.47 L127.75 0 L126.34 0 L125.4 -0.47 L124.46 -1.41M138.56 -5.17 L137.62 -6.11 L136.68 -6.58 L135.27 -6.58 L134.33 -6.11 L133.39 -5.17 L132.92 -3.76 L132.92 -2.82 L133.39 -1.41 L134.33 -0.47 L135.27 0 L136.68 0 L137.62 -0.47 L138.56 -1.41M151.75 -11.75 L152.69 -10.81 L153.63 -9.4 L154.57 -7.52 L155.04 -5.17 L155.04 -3.29 L154.57 -0.94 L153.63 0.94 L152.69 2.35 L151.75 3.29" fill="none" stroke="#000" stroke-width="1.12" stroke-linecap="round" stroke-linejoin="round" transform="translate(253 289.0) rotate(-90)"/><path d="M76.89 7.52 L79.15 1.6 L81.4 7.52M77.74 5.55 L80.56 5.55M82.81 4.42 L85.35 4.42 L86.2 4.14 L86.48 3.85 L86.76 3.29 L86.76 2.73 L86.48 2.16 L86.2 1.88 L85.35 1.6 L82.81 1.6 L82.81 7.52 L85.35 7.52 L86.2 7.24 L86.48 6.96 L86.76 6.39 L86.76 5.55 L86.48 4.98 L86.2 4.7 L85.35 4.42" fill="none" stroke="#000" stroke-width="1.25" stroke-linecap="round" stroke-linejoin="round" transform="translate(253 289.0) rotate(-90)"/><path d="M107.98 -11.45 L110.41 -11.45 L109.09 -9.69 L109.75 -9.69 L110.19 -9.47 L110.41 -9.24 L110.63 -8.58 L110.63 -8.14 L110.41 -7.48 L109.97 -7.04 L109.31 -6.81 L108.65 -6.81 L107.98 -7.04 L107.76 -7.26 L107.54 -7.7M140.87 -8.85 L144.93 -8.85M146.96 -11.55 L149.44 -11.55 L148.09 -9.75 L148.76 -9.75 L149.22 -9.52 L149.44 -9.3 L149.67 -8.62 L149.67 -8.17 L149.44 -7.49 L148.99 -7.04 L148.31 -6.81 L147.64 -6.81 L146.96 -7.04 L146.73 -7.27 L146.51 -7.72" fill="none" stroke="#000" stroke-width="1.15" stroke-linecap="round" stroke-linejoin="round" transform="translate(253 289.0) rotate(-90)"/></svg></body></html>
